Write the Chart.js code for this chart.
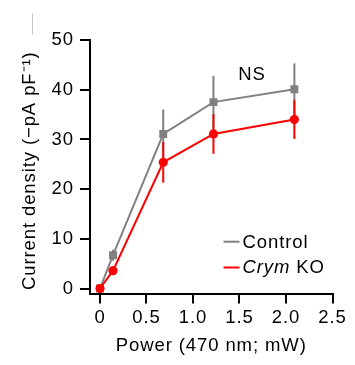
<!DOCTYPE html>
<html><head><meta charset="utf-8">
<style>html,body{margin:0;padding:0;background:#fff;}</style>
<script src="https://cdn.jsdelivr.net/npm/chart.js@4"></script>
</head><body>
<canvas id="c" width="355" height="365" style="width:355px;height:365px;display:block"></canvas>
<script>
const power = [0, 0.14, 0.68, 1.22, 2.09];
const controlMean = [0, 6.7, 31.1, 37.5, 40.1];
const controlSem = [0.4, 1.1, 4.9, 5.3, 5.2];
const koMean = [0, 3.6, 25.4, 31.1, 34.0];
const koSem = [0.4, 0.5, 4.1, 4.0, 3.9];
const xTicks = [0, 0.5, 1.0, 1.5, 2.0, 2.5];
const yTicks = [0, 10, 20, 30, 40, 50];
const seriesNames = ['Control', 'Crym KO'];
const xTitle = 'Power (470 nm; mW)';
const yTitle = 'Current density (\u2212pA pF\u207B\u00B9)';
const annotationText = 'NS';
const annotationAt = {x: 1.634, y: 42};

const GRAY = '#808080', RED = '#ff0000';
const FONT = '"Liberation Sans", Arial, Helvetica, sans-serif';
const FS = 18.5;
const SPACING = '0.9px';

const spacing = {
  id: 'spacing',
  beforeLayout(chart) { chart.ctx.letterSpacing = SPACING; },
  beforeDraw(chart) { chart.ctx.letterSpacing = SPACING; }
};

const errorBars = {
  id: 'errorBars',
  beforeDatasetsDraw(chart) {
    const {ctx, scales: {x, y}} = chart;
    const sets = [[controlMean, controlSem, GRAY], [koMean, koSem, RED]];
    ctx.save();
    ctx.lineWidth = 2;
    sets.forEach(([m, e, col]) => {
      ctx.strokeStyle = col;
      power.forEach((p, i) => {
        const px = x.getPixelForValue(p);
        ctx.beginPath();
        ctx.moveTo(px, y.getPixelForValue(m[i] - e[i]));
        ctx.lineTo(px, y.getPixelForValue(m[i] + e[i]));
        ctx.stroke();
      });
    });
    ctx.restore();
  }
};

const extras = {
  id: 'extras',
  afterDraw(chart) {
    const {ctx, chartArea: ca, scales: {x, y}} = chart;
    ctx.save();
    ctx.letterSpacing = SPACING;
    ctx.fillStyle = '#000';
    // y-axis title
    ctx.save();
    ctx.translate(30, (ca.top + ca.bottom) / 2 + 4);
    ctx.rotate(-Math.PI / 2);
    ctx.font = FS + 'px ' + FONT;
    ctx.textAlign = 'center';
    ctx.textBaseline = 'middle';
    ctx.fillText(yTitle, 0, 0);
    ctx.restore();
    // NS annotation
    ctx.font = FS + 'px ' + FONT;
    ctx.textAlign = 'center';
    ctx.textBaseline = 'alphabetic';
    ctx.fillText(annotationText, x.getPixelForValue(annotationAt.x), y.getPixelForValue(annotationAt.y));
    // legend
    const lx = ca.left + 133.5, tx = ca.left + 152.5;
    const rows = [[GRAY, ca.top + 201.7, ca.top + 208.3], [RED, ca.top + 227.5, ca.top + 233.3]];
    ctx.lineWidth = 2;
    ctx.textAlign = 'left';
    rows.forEach(([col, ly, by], i) => {
      ctx.strokeStyle = col;
      ctx.beginPath(); ctx.moveTo(lx, ly); ctx.lineTo(lx + 16, ly); ctx.stroke();
      ctx.fillStyle = '#000';
      if (i === 0) {
        ctx.font = FS + 'px ' + FONT;
        ctx.fillText(seriesNames[0], tx, by);
      } else {
        const parts = seriesNames[1].split(' ');
        ctx.font = 'italic ' + FS + 'px ' + FONT;
        ctx.fillText(parts[0], tx, by);
        const w = ctx.measureText(parts[0] + ' ').width;
        ctx.font = FS + 'px ' + FONT;
        ctx.fillText(parts.slice(1).join(' '), tx + w, by);
      }
    });
    // faint mark at top left
    ctx.strokeStyle = '#c8c8c8';
    ctx.lineWidth = 1;
    ctx.beginPath(); ctx.moveTo(32.5, 13); ctx.lineTo(32.5, 35); ctx.stroke();
    ctx.restore();
  }
};

new Chart(document.getElementById('c'), {
  type: 'line',
  data: {
    datasets: [
      {
        label: seriesNames[1],
        data: power.map((p, i) => ({x: p, y: koMean[i]})),
        borderColor: RED, backgroundColor: RED,
        borderWidth: 2, pointStyle: 'circle', pointRadius: 4.6, pointBorderWidth: 0,
        tension: 0, order: 0
      },
      {
        label: seriesNames[0],
        data: power.map((p, i) => ({x: p, y: controlMean[i]})),
        borderColor: GRAY, backgroundColor: GRAY,
        borderWidth: 2, pointStyle: 'rect', pointRadius: 5.6, pointBorderWidth: 0,
        tension: 0, order: 1
      }
    ]
  },
  options: {
    responsive: false,
    animation: false,
    devicePixelRatio: 1,
    layout: {padding: {top: 40, right: 22.5, left: 0, bottom: 0}},
    plugins: {legend: {display: false}, tooltip: {enabled: false}},
    scales: {
      x: {
        type: 'linear', min: -0.1075, max: 2.5,
        afterBuildTicks: s => { s.ticks = xTicks.map(v => ({value: v})); },
        afterFit: s => { s.height = 71.5; },
        ticks: {
          callback: v => v === 0 ? '0' : v.toFixed(1),
          font: {size: FS, family: FONT}, color: '#000', padding: 3,
          maxRotation: 0, autoSkip: false
        },
        grid: {drawOnChartArea: false, drawTicks: true, tickLength: 10, color: '#000', lineWidth: 2},
        border: {display: true, color: '#000', width: 2},
        title: {display: true, text: xTitle, font: {size: FS, family: FONT}, color: '#000', padding: {top: 0, bottom: 8}}
      },
      y: {
        type: 'linear', min: -1, max: 50,
        afterBuildTicks: s => { s.ticks = yTicks.map(v => ({value: v})); },
        afterFit: s => { s.width = 90; },
        ticks: {
          callback: v => String(v),
          font: {size: FS, family: FONT}, color: '#000', padding: 6, autoSkip: false
        },
        grid: {drawOnChartArea: false, drawTicks: true, tickLength: 10, color: '#000', lineWidth: 2},
        border: {display: true, color: '#000', width: 2},
        title: {display: false}
      }
    }
  },
  plugins: [spacing, errorBars, extras]
});
</script>
</body></html>
